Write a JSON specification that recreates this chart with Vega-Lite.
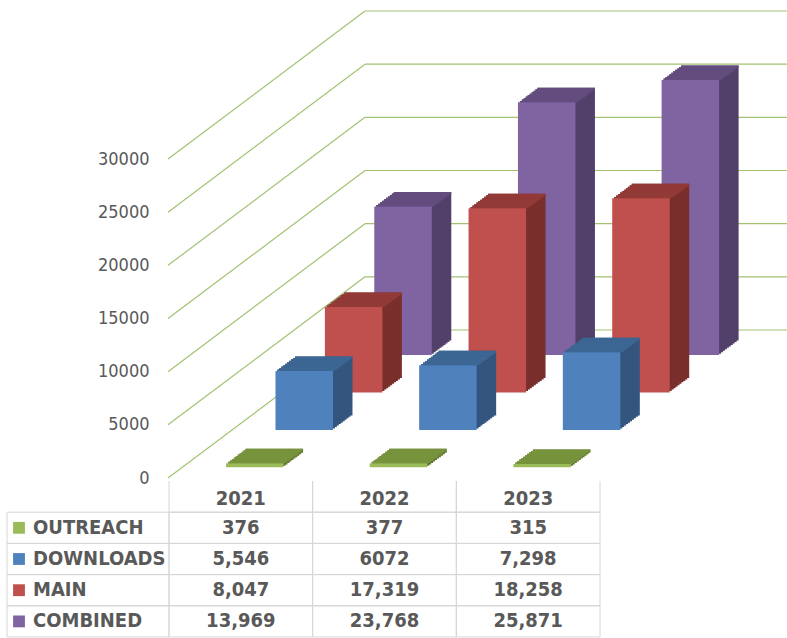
{
  "$schema": "https://vega.github.io/schema/vega-lite/v6.json",
  "autosize": "none",
  "width": 618,
  "height": 638,
  "padding": {"left": 169, "top": 0, "right": 0, "bottom": 0},
  "background": "white",
  "config": {"view": {"stroke": null}, "font": "DejaVu Sans Condensed, DejaVu Sans", "bar": {"width": 57.5}},
  "datasets": {
    "vals": [
      {"series": "OUTREACH", "year": "2021", "value": 376, "label": "376"},
      {"series": "OUTREACH", "year": "2022", "value": 377, "label": "377"},
      {"series": "OUTREACH", "year": "2023", "value": 315, "label": "315"},
      {"series": "DOWNLOADS", "year": "2021", "value": 5546, "label": "5,546"},
      {"series": "DOWNLOADS", "year": "2022", "value": 6072, "label": "6072"},
      {"series": "DOWNLOADS", "year": "2023", "value": 7298, "label": "7,298"},
      {"series": "MAIN", "year": "2021", "value": 8047, "label": "8,047"},
      {"series": "MAIN", "year": "2022", "value": 17319, "label": "17,319"},
      {"series": "MAIN", "year": "2023", "value": 18258, "label": "18,258"},
      {"series": "COMBINED", "year": "2021", "value": 13969, "label": "13,969"},
      {"series": "COMBINED", "year": "2022", "value": 23768, "label": "23,768"},
      {"series": "COMBINED", "year": "2023", "value": 25871, "label": "25,871"}
    ],
    "ticks": [{"v": 0}, {"v": 5000}, {"v": 10000}, {"v": 15000}, {"v": 20000}, {"v": 25000}, {"v": 30000}]
  },
  "resolve": {"scale": {"x": "independent", "y": "independent", "color": "independent"}},
  "layer": [
    {
      "data": {"name": "ticks"},
      "encoding": {
        "y": {"field": "v", "type": "quantitative", "scale": {"domain": [0, 30000], "range": [478, 159], "nice": false, "zero": false}, "axis": null}
      },
      "layer": [
        {
          "mark": {"type": "rule", "color": "#a3c272", "strokeWidth": 1.2, "y2Offset": -148},
          "encoding": {
            "x": {"datum": 0, "type": "quantitative", "scale": {"domain": [0, 1, 2], "range": [-1, 196, 618]}, "axis": null},
            "x2": {"datum": 1},
            "y2": {"field": "v"}
          }
        },
        {
          "mark": {"type": "rule", "color": "#a3c272", "strokeWidth": 1.2, "yOffset": -148, "y2Offset": -148},
          "encoding": {
            "x": {"datum": 1, "type": "quantitative", "scale": {"domain": [0, 1, 2], "range": [-1, 196, 618]}, "axis": null},
            "x2": {"datum": 2},
            "y2": {"field": "v"}
          }
        }
      ]
    },
    {
      "data": {"name": "vals"},
      "encoding": {
        "x": {"field": "year", "type": "nominal", "scale": {"domain": ["2021", "2022", "2023"], "range": [0, 431], "paddingInner": 0, "paddingOuter": 0}, "axis": null},
        "y": {"field": "value", "type": "quantitative", "scale": {"domain": [0, 30000], "range": [478, 159], "nice": false, "zero": false},
          "axis": {"values": [0, 5000, 10000, 15000, 20000, 25000, 30000], "format": "d", "ticks": false, "domain": false, "grid": false, "labelPadding": 20, "labelFontSize": 18, "labelColor": "#595959", "labelFont": "DejaVu Sans Condensed, DejaVu Sans", "title": null}}
      },
      "layer": [
        {
          "transform": [{"filter": "datum.series === 'COMBINED'"}],
          "layer": [
            {"mark": {"type": "bar", "color": "#52406A", "xOffset": 181.7, "x2Offset": 181.7, "yOffset": -137.4, "y2Offset": -137.4}, "encoding": {"y2": {"datum": 0}}},
            {"mark": {"type": "bar", "color": "#52406A", "xOffset": 179.75, "x2Offset": 179.75, "yOffset": -135.95, "y2Offset": -135.95}, "encoding": {"y2": {"datum": 0}}},
            {"mark": {"type": "bar", "color": "#52406A", "xOffset": 177.8, "x2Offset": 177.8, "yOffset": -134.5, "y2Offset": -134.5}, "encoding": {"y2": {"datum": 0}}},
            {"mark": {"type": "bar", "color": "#52406A", "xOffset": 175.85, "x2Offset": 175.85, "yOffset": -133.05, "y2Offset": -133.05}, "encoding": {"y2": {"datum": 0}}},
            {"mark": {"type": "bar", "color": "#52406A", "xOffset": 173.9, "x2Offset": 173.9, "yOffset": -131.6, "y2Offset": -131.6}, "encoding": {"y2": {"datum": 0}}},
            {"mark": {"type": "bar", "color": "#52406A", "xOffset": 171.95, "x2Offset": 171.95, "yOffset": -130.15, "y2Offset": -130.15}, "encoding": {"y2": {"datum": 0}}},
            {"mark": {"type": "bar", "color": "#52406A", "xOffset": 170.0, "x2Offset": 170.0, "yOffset": -128.7, "y2Offset": -128.7}, "encoding": {"y2": {"datum": 0}}},
            {"mark": {"type": "bar", "color": "#52406A", "xOffset": 168.05, "x2Offset": 168.05, "yOffset": -127.25, "y2Offset": -127.25}, "encoding": {"y2": {"datum": 0}}},
            {"mark": {"type": "bar", "color": "#52406A", "xOffset": 166.1, "x2Offset": 166.1, "yOffset": -125.8, "y2Offset": -125.8}, "encoding": {"y2": {"datum": 0}}},
            {"mark": {"type": "bar", "color": "#52406A", "xOffset": 164.15, "x2Offset": 164.15, "yOffset": -124.35, "y2Offset": -124.35}, "encoding": {"y2": {"datum": 0}}},
            {"mark": {"type": "bar", "color": "#634C7E", "xOffset": 181.7, "x2Offset": 181.7, "yOffset": -137.4, "y2Offset": -135.35}, "encoding": {"y2": {"field": "value"}}},
            {"mark": {"type": "bar", "color": "#634C7E", "xOffset": 179.75, "x2Offset": 179.75, "yOffset": -135.95, "y2Offset": -133.9}, "encoding": {"y2": {"field": "value"}}},
            {"mark": {"type": "bar", "color": "#634C7E", "xOffset": 177.8, "x2Offset": 177.8, "yOffset": -134.5, "y2Offset": -132.45}, "encoding": {"y2": {"field": "value"}}},
            {"mark": {"type": "bar", "color": "#634C7E", "xOffset": 175.85, "x2Offset": 175.85, "yOffset": -133.05, "y2Offset": -131.0}, "encoding": {"y2": {"field": "value"}}},
            {"mark": {"type": "bar", "color": "#634C7E", "xOffset": 173.9, "x2Offset": 173.9, "yOffset": -131.6, "y2Offset": -129.55}, "encoding": {"y2": {"field": "value"}}},
            {"mark": {"type": "bar", "color": "#634C7E", "xOffset": 171.95, "x2Offset": 171.95, "yOffset": -130.15, "y2Offset": -128.1}, "encoding": {"y2": {"field": "value"}}},
            {"mark": {"type": "bar", "color": "#634C7E", "xOffset": 170.0, "x2Offset": 170.0, "yOffset": -128.7, "y2Offset": -126.65}, "encoding": {"y2": {"field": "value"}}},
            {"mark": {"type": "bar", "color": "#634C7E", "xOffset": 168.05, "x2Offset": 168.05, "yOffset": -127.25, "y2Offset": -125.2}, "encoding": {"y2": {"field": "value"}}},
            {"mark": {"type": "bar", "color": "#634C7E", "xOffset": 166.1, "x2Offset": 166.1, "yOffset": -125.8, "y2Offset": -123.75}, "encoding": {"y2": {"field": "value"}}},
            {"mark": {"type": "bar", "color": "#634C7E", "xOffset": 164.15, "x2Offset": 164.15, "yOffset": -124.35, "y2Offset": -122.9}, "encoding": {"y2": {"field": "value"}}},
            {"mark": {"type": "bar", "color": "#8064A2", "xOffset": 162.2, "x2Offset": 162.2, "yOffset": -122.9, "y2Offset": -122.9}, "encoding": {"y2": {"datum": 0}}}
          ]
        },
        {
          "transform": [{"filter": "datum.series === 'MAIN'"}],
          "layer": [
            {"mark": {"type": "bar", "color": "#7A2F2D", "xOffset": 132.3, "x2Offset": 132.3, "yOffset": -100.0, "y2Offset": -100.0}, "encoding": {"y2": {"datum": 0}}},
            {"mark": {"type": "bar", "color": "#7A2F2D", "xOffset": 130.35, "x2Offset": 130.35, "yOffset": -98.55, "y2Offset": -98.55}, "encoding": {"y2": {"datum": 0}}},
            {"mark": {"type": "bar", "color": "#7A2F2D", "xOffset": 128.4, "x2Offset": 128.4, "yOffset": -97.1, "y2Offset": -97.1}, "encoding": {"y2": {"datum": 0}}},
            {"mark": {"type": "bar", "color": "#7A2F2D", "xOffset": 126.45, "x2Offset": 126.45, "yOffset": -95.65, "y2Offset": -95.65}, "encoding": {"y2": {"datum": 0}}},
            {"mark": {"type": "bar", "color": "#7A2F2D", "xOffset": 124.5, "x2Offset": 124.5, "yOffset": -94.2, "y2Offset": -94.2}, "encoding": {"y2": {"datum": 0}}},
            {"mark": {"type": "bar", "color": "#7A2F2D", "xOffset": 122.55, "x2Offset": 122.55, "yOffset": -92.75, "y2Offset": -92.75}, "encoding": {"y2": {"datum": 0}}},
            {"mark": {"type": "bar", "color": "#7A2F2D", "xOffset": 120.6, "x2Offset": 120.6, "yOffset": -91.3, "y2Offset": -91.3}, "encoding": {"y2": {"datum": 0}}},
            {"mark": {"type": "bar", "color": "#7A2F2D", "xOffset": 118.65, "x2Offset": 118.65, "yOffset": -89.85, "y2Offset": -89.85}, "encoding": {"y2": {"datum": 0}}},
            {"mark": {"type": "bar", "color": "#7A2F2D", "xOffset": 116.7, "x2Offset": 116.7, "yOffset": -88.4, "y2Offset": -88.4}, "encoding": {"y2": {"datum": 0}}},
            {"mark": {"type": "bar", "color": "#7A2F2D", "xOffset": 114.75, "x2Offset": 114.75, "yOffset": -86.95, "y2Offset": -86.95}, "encoding": {"y2": {"datum": 0}}},
            {"mark": {"type": "bar", "color": "#923A37", "xOffset": 132.3, "x2Offset": 132.3, "yOffset": -100.0, "y2Offset": -97.95}, "encoding": {"y2": {"field": "value"}}},
            {"mark": {"type": "bar", "color": "#923A37", "xOffset": 130.35, "x2Offset": 130.35, "yOffset": -98.55, "y2Offset": -96.5}, "encoding": {"y2": {"field": "value"}}},
            {"mark": {"type": "bar", "color": "#923A37", "xOffset": 128.4, "x2Offset": 128.4, "yOffset": -97.1, "y2Offset": -95.05}, "encoding": {"y2": {"field": "value"}}},
            {"mark": {"type": "bar", "color": "#923A37", "xOffset": 126.45, "x2Offset": 126.45, "yOffset": -95.65, "y2Offset": -93.6}, "encoding": {"y2": {"field": "value"}}},
            {"mark": {"type": "bar", "color": "#923A37", "xOffset": 124.5, "x2Offset": 124.5, "yOffset": -94.2, "y2Offset": -92.15}, "encoding": {"y2": {"field": "value"}}},
            {"mark": {"type": "bar", "color": "#923A37", "xOffset": 122.55, "x2Offset": 122.55, "yOffset": -92.75, "y2Offset": -90.7}, "encoding": {"y2": {"field": "value"}}},
            {"mark": {"type": "bar", "color": "#923A37", "xOffset": 120.6, "x2Offset": 120.6, "yOffset": -91.3, "y2Offset": -89.25}, "encoding": {"y2": {"field": "value"}}},
            {"mark": {"type": "bar", "color": "#923A37", "xOffset": 118.65, "x2Offset": 118.65, "yOffset": -89.85, "y2Offset": -87.8}, "encoding": {"y2": {"field": "value"}}},
            {"mark": {"type": "bar", "color": "#923A37", "xOffset": 116.7, "x2Offset": 116.7, "yOffset": -88.4, "y2Offset": -86.35}, "encoding": {"y2": {"field": "value"}}},
            {"mark": {"type": "bar", "color": "#923A37", "xOffset": 114.75, "x2Offset": 114.75, "yOffset": -86.95, "y2Offset": -85.5}, "encoding": {"y2": {"field": "value"}}},
            {"mark": {"type": "bar", "color": "#C0504D", "xOffset": 112.8, "x2Offset": 112.8, "yOffset": -85.5, "y2Offset": -85.5}, "encoding": {"y2": {"datum": 0}}}
          ]
        },
        {
          "transform": [{"filter": "datum.series === 'DOWNLOADS'"}],
          "layer": [
            {"mark": {"type": "bar", "color": "#33557E", "xOffset": 82.9, "x2Offset": 82.9, "yOffset": -62.6, "y2Offset": -62.6}, "encoding": {"y2": {"datum": 0}}},
            {"mark": {"type": "bar", "color": "#33557E", "xOffset": 80.95, "x2Offset": 80.95, "yOffset": -61.15, "y2Offset": -61.15}, "encoding": {"y2": {"datum": 0}}},
            {"mark": {"type": "bar", "color": "#33557E", "xOffset": 79.0, "x2Offset": 79.0, "yOffset": -59.7, "y2Offset": -59.7}, "encoding": {"y2": {"datum": 0}}},
            {"mark": {"type": "bar", "color": "#33557E", "xOffset": 77.05, "x2Offset": 77.05, "yOffset": -58.25, "y2Offset": -58.25}, "encoding": {"y2": {"datum": 0}}},
            {"mark": {"type": "bar", "color": "#33557E", "xOffset": 75.1, "x2Offset": 75.1, "yOffset": -56.8, "y2Offset": -56.8}, "encoding": {"y2": {"datum": 0}}},
            {"mark": {"type": "bar", "color": "#33557E", "xOffset": 73.15, "x2Offset": 73.15, "yOffset": -55.35, "y2Offset": -55.35}, "encoding": {"y2": {"datum": 0}}},
            {"mark": {"type": "bar", "color": "#33557E", "xOffset": 71.2, "x2Offset": 71.2, "yOffset": -53.9, "y2Offset": -53.9}, "encoding": {"y2": {"datum": 0}}},
            {"mark": {"type": "bar", "color": "#33557E", "xOffset": 69.25, "x2Offset": 69.25, "yOffset": -52.45, "y2Offset": -52.45}, "encoding": {"y2": {"datum": 0}}},
            {"mark": {"type": "bar", "color": "#33557E", "xOffset": 67.3, "x2Offset": 67.3, "yOffset": -51.0, "y2Offset": -51.0}, "encoding": {"y2": {"datum": 0}}},
            {"mark": {"type": "bar", "color": "#33557E", "xOffset": 65.35, "x2Offset": 65.35, "yOffset": -49.55, "y2Offset": -49.55}, "encoding": {"y2": {"datum": 0}}},
            {"mark": {"type": "bar", "color": "#3C6693", "xOffset": 82.9, "x2Offset": 82.9, "yOffset": -62.6, "y2Offset": -60.55}, "encoding": {"y2": {"field": "value"}}},
            {"mark": {"type": "bar", "color": "#3C6693", "xOffset": 80.95, "x2Offset": 80.95, "yOffset": -61.15, "y2Offset": -59.1}, "encoding": {"y2": {"field": "value"}}},
            {"mark": {"type": "bar", "color": "#3C6693", "xOffset": 79.0, "x2Offset": 79.0, "yOffset": -59.7, "y2Offset": -57.65}, "encoding": {"y2": {"field": "value"}}},
            {"mark": {"type": "bar", "color": "#3C6693", "xOffset": 77.05, "x2Offset": 77.05, "yOffset": -58.25, "y2Offset": -56.2}, "encoding": {"y2": {"field": "value"}}},
            {"mark": {"type": "bar", "color": "#3C6693", "xOffset": 75.1, "x2Offset": 75.1, "yOffset": -56.8, "y2Offset": -54.75}, "encoding": {"y2": {"field": "value"}}},
            {"mark": {"type": "bar", "color": "#3C6693", "xOffset": 73.15, "x2Offset": 73.15, "yOffset": -55.35, "y2Offset": -53.3}, "encoding": {"y2": {"field": "value"}}},
            {"mark": {"type": "bar", "color": "#3C6693", "xOffset": 71.2, "x2Offset": 71.2, "yOffset": -53.9, "y2Offset": -51.85}, "encoding": {"y2": {"field": "value"}}},
            {"mark": {"type": "bar", "color": "#3C6693", "xOffset": 69.25, "x2Offset": 69.25, "yOffset": -52.45, "y2Offset": -50.4}, "encoding": {"y2": {"field": "value"}}},
            {"mark": {"type": "bar", "color": "#3C6693", "xOffset": 67.3, "x2Offset": 67.3, "yOffset": -51.0, "y2Offset": -48.95}, "encoding": {"y2": {"field": "value"}}},
            {"mark": {"type": "bar", "color": "#3C6693", "xOffset": 65.35, "x2Offset": 65.35, "yOffset": -49.55, "y2Offset": -48.1}, "encoding": {"y2": {"field": "value"}}},
            {"mark": {"type": "bar", "color": "#4F81BD", "xOffset": 63.4, "x2Offset": 63.4, "yOffset": -48.1, "y2Offset": -48.1}, "encoding": {"y2": {"datum": 0}}}
          ]
        },
        {
          "transform": [{"filter": "datum.series === 'OUTREACH'"}],
          "layer": [
            {"mark": {"type": "bar", "color": "#5E7530", "xOffset": 33.5, "x2Offset": 33.5, "yOffset": -25.2, "y2Offset": -25.2}, "encoding": {"y2": {"datum": 0}}},
            {"mark": {"type": "bar", "color": "#5E7530", "xOffset": 31.55, "x2Offset": 31.55, "yOffset": -23.75, "y2Offset": -23.75}, "encoding": {"y2": {"datum": 0}}},
            {"mark": {"type": "bar", "color": "#5E7530", "xOffset": 29.6, "x2Offset": 29.6, "yOffset": -22.3, "y2Offset": -22.3}, "encoding": {"y2": {"datum": 0}}},
            {"mark": {"type": "bar", "color": "#5E7530", "xOffset": 27.65, "x2Offset": 27.65, "yOffset": -20.85, "y2Offset": -20.85}, "encoding": {"y2": {"datum": 0}}},
            {"mark": {"type": "bar", "color": "#5E7530", "xOffset": 25.7, "x2Offset": 25.7, "yOffset": -19.4, "y2Offset": -19.4}, "encoding": {"y2": {"datum": 0}}},
            {"mark": {"type": "bar", "color": "#5E7530", "xOffset": 23.75, "x2Offset": 23.75, "yOffset": -17.95, "y2Offset": -17.95}, "encoding": {"y2": {"datum": 0}}},
            {"mark": {"type": "bar", "color": "#5E7530", "xOffset": 21.8, "x2Offset": 21.8, "yOffset": -16.5, "y2Offset": -16.5}, "encoding": {"y2": {"datum": 0}}},
            {"mark": {"type": "bar", "color": "#5E7530", "xOffset": 19.85, "x2Offset": 19.85, "yOffset": -15.05, "y2Offset": -15.05}, "encoding": {"y2": {"datum": 0}}},
            {"mark": {"type": "bar", "color": "#5E7530", "xOffset": 17.9, "x2Offset": 17.9, "yOffset": -13.6, "y2Offset": -13.6}, "encoding": {"y2": {"datum": 0}}},
            {"mark": {"type": "bar", "color": "#5E7530", "xOffset": 15.95, "x2Offset": 15.95, "yOffset": -12.15, "y2Offset": -12.15}, "encoding": {"y2": {"datum": 0}}},
            {"mark": {"type": "bar", "color": "#77933C", "xOffset": 33.5, "x2Offset": 33.5, "yOffset": -25.2, "y2Offset": -23.15}, "encoding": {"y2": {"field": "value"}}},
            {"mark": {"type": "bar", "color": "#77933C", "xOffset": 31.55, "x2Offset": 31.55, "yOffset": -23.75, "y2Offset": -21.7}, "encoding": {"y2": {"field": "value"}}},
            {"mark": {"type": "bar", "color": "#77933C", "xOffset": 29.6, "x2Offset": 29.6, "yOffset": -22.3, "y2Offset": -20.25}, "encoding": {"y2": {"field": "value"}}},
            {"mark": {"type": "bar", "color": "#77933C", "xOffset": 27.65, "x2Offset": 27.65, "yOffset": -20.85, "y2Offset": -18.8}, "encoding": {"y2": {"field": "value"}}},
            {"mark": {"type": "bar", "color": "#77933C", "xOffset": 25.7, "x2Offset": 25.7, "yOffset": -19.4, "y2Offset": -17.35}, "encoding": {"y2": {"field": "value"}}},
            {"mark": {"type": "bar", "color": "#77933C", "xOffset": 23.75, "x2Offset": 23.75, "yOffset": -17.95, "y2Offset": -15.9}, "encoding": {"y2": {"field": "value"}}},
            {"mark": {"type": "bar", "color": "#77933C", "xOffset": 21.8, "x2Offset": 21.8, "yOffset": -16.5, "y2Offset": -14.45}, "encoding": {"y2": {"field": "value"}}},
            {"mark": {"type": "bar", "color": "#77933C", "xOffset": 19.85, "x2Offset": 19.85, "yOffset": -15.05, "y2Offset": -13.0}, "encoding": {"y2": {"field": "value"}}},
            {"mark": {"type": "bar", "color": "#77933C", "xOffset": 17.9, "x2Offset": 17.9, "yOffset": -13.6, "y2Offset": -11.55}, "encoding": {"y2": {"field": "value"}}},
            {"mark": {"type": "bar", "color": "#77933C", "xOffset": 15.95, "x2Offset": 15.95, "yOffset": -12.15, "y2Offset": -10.7}, "encoding": {"y2": {"field": "value"}}},
            {"mark": {"type": "bar", "color": "#9BBB59", "xOffset": 14, "x2Offset": 14, "yOffset": -10.7, "y2Offset": -10.7}, "encoding": {"y2": {"datum": 0}}}
          ]
        }
      ]
    },
    {
      "data": {"name": "vals"},
      "encoding": {
        "x": {"field": "year", "type": "nominal", "scale": {"domain": ["2021", "2022", "2023"], "range": [0, 431], "paddingInner": 0, "paddingOuter": 0}, "axis": null},
        "y": {"field": "series", "type": "nominal", "scale": {"domain": ["HEADER", "OUTREACH", "DOWNLOADS", "MAIN", "COMBINED"], "range": [481, 637], "paddingInner": 0, "paddingOuter": 0}, "axis": null}
      },
      "layer": [
        {"mark": {"type": "rect", "fillOpacity": 0, "stroke": "#d6d6d6", "strokeWidth": 1}},
        {
          "transform": [{"filter": "datum.series === 'OUTREACH'"}],
          "mark": {"type": "rect", "fillOpacity": 0, "stroke": "#d6d6d6", "strokeWidth": 1, "strokeDash": [0, 143.67, 1000]},
          "encoding": {"y": {"datum": "HEADER", "type": "nominal"}}
        },
        {
          "transform": [{"filter": "datum.series === 'OUTREACH'"}],
          "mark": {"type": "text", "fontSize": 20, "fontWeight": "bold", "color": "#595959", "yOffset": 2},
          "encoding": {"text": {"field": "year"}, "y": {"datum": "HEADER", "type": "nominal"}}
        },
        {
          "mark": {"type": "text", "fontSize": 20, "fontWeight": "bold", "color": "#595959"},
          "encoding": {"text": {"field": "label"}}
        }
      ]
    },
    {
      "data": {"name": "vals"},
      "transform": [{"filter": "datum.year === '2021'"}],
      "encoding": {
        "y": {"field": "series", "type": "nominal", "scale": {"domain": ["HEADER", "OUTREACH", "DOWNLOADS", "MAIN", "COMBINED"], "range": [481, 637], "paddingInner": 0, "paddingOuter": 0}, "axis": null}
      },
      "layer": [
        {
          "mark": {"type": "rect", "fillOpacity": 0, "stroke": "#d6d6d6", "strokeWidth": 1},
          "encoding": {"x": {"datum": "LABEL", "type": "nominal", "scale": {"domain": ["LABEL"], "range": [-162, 0], "paddingInner": 0, "paddingOuter": 0}, "axis": null}}
        },
        {
          "mark": {"type": "point", "shape": "square", "filled": true, "size": 140, "opacity": 1, "xOffset": 12},
          "encoding": {
            "x": {"datum": "LABEL", "type": "nominal", "bandPosition": 0},
            "color": {"field": "series", "type": "nominal", "scale": {"domain": ["OUTREACH", "DOWNLOADS", "MAIN", "COMBINED"], "range": ["#9BBB59", "#4F81BD", "#C0504D", "#8064A2"]}, "legend": null}
          }
        },
        {
          "mark": {"type": "text", "align": "left", "xOffset": 26, "fontSize": 20, "fontWeight": "bold", "color": "#595959"},
          "encoding": {"x": {"datum": "LABEL", "type": "nominal", "bandPosition": 0}, "text": {"field": "series"}}
        }
      ]
    }
  ]
}
